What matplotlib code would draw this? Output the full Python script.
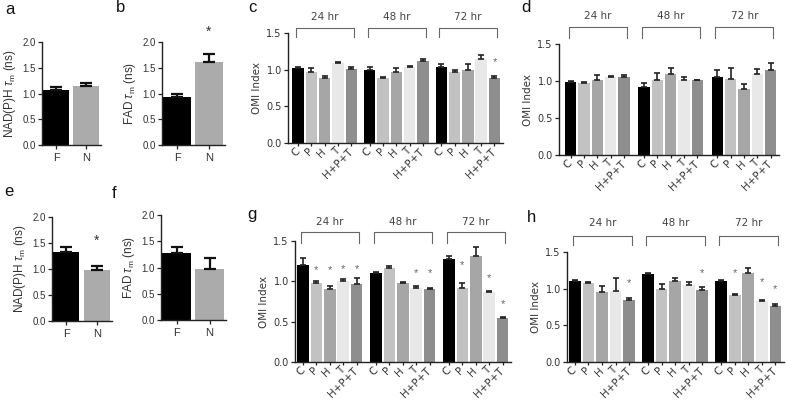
import matplotlib
matplotlib.use("Agg")
import matplotlib.pyplot as plt
import numpy as np

plt.rcParams["font.family"] = ["Liberation Sans", "DejaVu Sans"]
plt.rcParams["mathtext.fontset"] = "custom"
plt.rcParams["mathtext.rm"] = "Liberation Sans"
plt.rcParams["mathtext.it"] = "Liberation Sans:italic"
plt.rcParams["font.size"] = 7

W, H = 787, 401

# ---- data ----
cells = ["F", "N"]
a_mean = [1.07, 1.15]
a_err = [0.06, 0.05]
b_mean = [0.93, 1.61]
b_err = [0.07, 0.15]
b_star = 2.19
e_mean = [1.32, 0.98]
e_err = [0.10, 0.07]
e_star = 1.54
f_mean = [1.27, 0.98]
f_err = [0.12, 0.21]

groups = ["24 hr", "48 hr", "72 hr"]
treatments = ["C", "P", "H", "T", "H+P+T"]

c_mean = [[1.02, 0.97, 0.88, 1.09, 1.01],
          [1.00, 0.88, 0.97, 1.03, 1.12],
          [1.04, 0.97, 1.00, 1.15, 0.89]]
c_err = [[0.02, 0.05, 0.03, 0.01, 0.03],
         [0.03, 0.02, 0.05, 0.02, 0.02],
         [0.04, 0.03, 0.08, 0.05, 0.03]]
c_stars = [(2, 4, 1.10)]

d_mean = [[0.99, 0.97, 1.01, 1.05, 1.05],
          [0.92, 1.01, 1.10, 1.02, 1.01],
          [1.05, 1.03, 0.89, 1.10, 1.15]]
d_err = [[0.01, 0.02, 0.07, 0.02, 0.03],
         [0.05, 0.10, 0.07, 0.03, 0.01],
         [0.10, 0.15, 0.07, 0.06, 0.10]]
d_stars = []

g_mean = [[1.20, 0.98, 0.91, 1.00, 0.97],
          [1.10, 1.16, 0.98, 0.92, 0.90],
          [1.28, 0.92, 1.31, 0.87, 0.55]]
g_err = [[0.09, 0.02, 0.035, 0.03, 0.07],
         [0.02, 0.025, 0.01, 0.02, 0.015],
         [0.035, 0.06, 0.11, 0.01, 0.01]]
g_stars = [(0, 1, 1.14), (0, 2, 1.14), (0, 3, 1.15), (0, 4, 1.15),
           (1, 3, 1.10), (1, 4, 1.10),
           (2, 1, 1.20), (2, 3, 1.04), (2, 4, 0.72)]

h_mean = [[1.11, 1.075, 0.955, 0.97, 0.84],
          [1.20, 1.00, 1.10, 1.05, 0.98],
          [1.11, 0.915, 1.21, 0.83, 0.76]]
h_err = [[0.015, 0.01, 0.075, 0.18, 0.03],
         [0.01, 0.07, 0.04, 0.04, 0.04],
         [0.01, 0.015, 0.075, 0.01, 0.03]]
h_stars = [(0, 4, 1.08), (1, 4, 1.21), (2, 1, 1.21), (2, 3, 1.09), (2, 4, 0.99)]

treat_colors = ["#000000", "#c2c2c2", "#a6a6a6", "#e8e8e8", "#8e8e8e"]
cell_colors = ["#000000", "#ababab"]
text_col = "#333333"
wide = ["DejaVu Sans"]

fig = plt.figure(figsize=(W / 100, H / 100), dpi=100)


def px_axes(left, top, right, bottom):
    return fig.add_axes([left / W, 1 - bottom / H, (right - left) / W, (bottom - top) / H])


def style(ax):
    for s in ["top", "right"]:
        ax.spines[s].set_visible(False)
    for s in ["left", "bottom"]:
        ax.spines[s].set_linewidth(1.0)
        ax.spines[s].set_color("#222222")
    ax.tick_params(axis="both", length=3, width=0.9, color="#222222",
                   labelcolor=text_col, pad=1.5)


def small_panel(box, means, errs, ylabel, star_y=None):
    ax = px_axes(*box)
    x = np.arange(len(cells))
    ax.bar(x, means, width=0.86, color=cell_colors, zorder=2)
    ax.errorbar(x, means, yerr=[np.zeros(len(errs)), errs], fmt="none",
                ecolor="#111111", elinewidth=1.6, capsize=4.5, capthick=1.6,
                zorder=3)
    ax.set_ylim(0, 2)
    ax.set_yticks([0, 0.5, 1.0, 1.5, 2.0])
    ax.set_yticklabels(["0.0", "0.5", "1.0", "1.5", "2.0"], fontsize=7)
    ax.set_xlim(-0.47, 1.5)
    ax.set_xticks(x)
    ax.set_xticklabels(cells, fontsize=8)
    ax.set_ylabel(ylabel, fontsize=8.5, color=text_col, labelpad=3)
    style(ax)
    ax.tick_params(axis="x", pad=3)
    if star_y is not None:
        ax.text(1, star_y, "*", ha="center", va="center", fontsize=10,
                color="#333333", clip_on=False)
    return ax


def omi_panel(box, xlim, gp, means, errs, stars, br_lo, br_hi, lab_y):
    ax = px_axes(*box)
    for g in range(len(groups)):
        x = g * gp + np.arange(len(treatments))
        ax.bar(x, means[g], width=0.86, color=treat_colors, zorder=2)
        ax.errorbar(x, means[g], yerr=[np.zeros(5), errs[g]], fmt="none",
                    ecolor="#222222", elinewidth=1.2, capsize=2.3,
                    capthick=1.2, zorder=3)
        x0, x1 = x[0] - 0.15, x[-1] + 0.2
        ax.plot([x0, x0, x1, x1], [br_lo, br_hi, br_hi, br_lo], color="#666666",
                lw=0.8, clip_on=False, solid_joinstyle="round")
        ax.text((x0 + x1) / 2, lab_y, groups[g], ha="center", va="center",
                fontsize=7.5, family=wide, color="#444444", clip_on=False)
    for g, i, y in stars:
        ax.text(g * gp + i, y, "*", ha="center", va="center", fontsize=8,
                color="#666666", clip_on=False)
    ax.set_ylim(0, 1.5)
    ax.set_yticks([0, 0.5, 1.0, 1.5])
    ax.set_yticklabels(["0.0", "0.5", "1.0", "1.5"], fontsize=7, family=wide)
    ax.set_xlim(*xlim)
    ticks = [g * gp + i for g in range(len(groups)) for i in range(len(treatments))]
    ax.set_xticks(ticks)
    ax.set_xticklabels(treatments * len(groups), rotation=45, ha="right",
                       va="center", rotation_mode="anchor", fontsize=7.5,
                       family=wide)
    ax.set_ylabel("OMI Index", fontsize=7.5, family=wide, color=text_col,
                  labelpad=3)
    style(ax)
    ax.tick_params(axis="x", length=2, pad=3)
    return ax


tau = r"$\tau_{\mathrm{m}}$"
small_panel((42, 42, 101, 145), a_mean, a_err, "NAD(P)H " + tau + " (ns)")
small_panel((162, 42, 225, 145), b_mean, b_err, "FAD " + tau + " (ns)", b_star)
small_panel((52, 217, 112, 321), e_mean, e_err, "NAD(P)H " + tau + " (ns)", e_star)
small_panel((161, 215, 226, 320), f_mean, f_err, "FAD " + tau + " (ns)")

omi_panel((288, 33, 503, 143), (-0.75, 15.4), 5.38, c_mean, c_err, c_stars,
          1.44, 1.57, 1.72)
omi_panel((559, 44, 779, 155), (-0.88, 15.63), 5.5, d_mean, d_err, d_stars,
          1.58, 1.73, 1.88)
omi_panel((295, 241, 511, 362), (-0.6, 15.53), 5.45, g_mean, g_err, g_stars,
          1.47, 1.61, 1.73)
omi_panel((567, 252, 784, 362), (-0.58, 15.41), 5.39, h_mean, h_err, h_stars,
          1.60, 1.72, 1.89)

for letter, (lx, ly) in {"a": (10, 9), "b": (121, 8), "c": (252, 8), "d": (526, 8),
                         "e": (9, 192), "f": (114, 193), "g": (252, 215),
                         "h": (531, 217)}.items():
    fig.text(lx / W, 1 - ly / H, letter, ha="center", va="center", fontsize=12,
             color="#111111")

fig.savefig("out.png", dpi=100)
